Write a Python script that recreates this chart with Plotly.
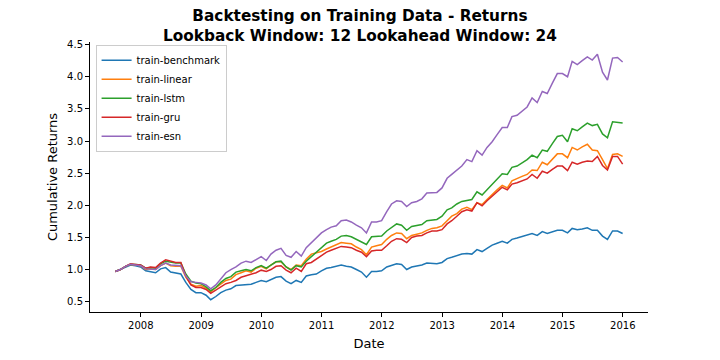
import pandas as pd
import plotly.graph_objects as go

dates = pd.date_range("2007-07-31", periods=102, freq="ME")

benchmark = [0.97, 1.00, 1.04, 1.07, 1.06, 1.04, 0.98, 0.96, 0.95, 1.01,
             1.03, 0.96, 0.95, 0.93, 0.80, 0.69, 0.64, 0.64, 0.60, 0.53,
             0.58, 0.64, 0.68, 0.70, 0.75, 0.76, 0.77, 0.77, 0.80, 0.83,
             0.81, 0.84, 0.88, 0.89, 0.82, 0.78, 0.83, 0.80, 0.90, 0.92,
             0.93, 0.98, 1.02, 1.03, 1.05, 1.07, 1.05, 1.04, 1.00, 0.96,
             0.88, 0.97, 0.97, 0.98, 1.04, 1.07, 1.09, 1.08, 1.00, 1.04,
             1.05, 1.07, 1.10, 1.09, 1.09, 1.11, 1.17, 1.19, 1.22, 1.24,
             1.25, 1.24, 1.31, 1.28, 1.33, 1.38, 1.41, 1.44, 1.41, 1.47,
             1.49, 1.51, 1.53, 1.56, 1.53, 1.59, 1.56, 1.59, 1.61, 1.61,
             1.57, 1.64, 1.62, 1.63, 1.65, 1.61, 1.61, 1.52, 1.47, 1.60,
             1.60, 1.56]

linear = [0.97, 1.00, 1.05, 1.08, 1.07, 1.06, 1.00, 1.01, 1.00, 1.06,
          1.10, 1.06, 1.05, 1.05, 0.88, 0.77, 0.74, 0.75, 0.71, 0.65,
          0.72, 0.78, 0.83, 0.85, 0.92, 0.95, 0.98, 0.96, 1.02, 1.05,
          1.01, 1.07, 1.12, 1.12, 1.04, 1.00, 1.07, 1.06, 1.16, 1.24,
          1.26, 1.28, 1.32, 1.35, 1.38, 1.42, 1.41, 1.40, 1.35, 1.31,
          1.23, 1.35, 1.37, 1.39, 1.47, 1.53, 1.57, 1.56, 1.48, 1.53,
          1.55, 1.57, 1.61, 1.64, 1.65, 1.68, 1.76, 1.83, 1.87, 1.94,
          1.97, 1.93, 2.04, 2.01, 2.09, 2.17, 2.24, 2.31, 2.27, 2.38,
          2.42, 2.45, 2.48, 2.55, 2.54, 2.67, 2.63, 2.72, 2.80, 2.80,
          2.74, 2.90, 2.86, 2.91, 2.95, 2.86, 2.85, 2.71, 2.57, 2.79,
          2.80, 2.76]

lstm = [0.97, 1.00, 1.05, 1.08, 1.08, 1.07, 1.02, 1.03, 1.02, 1.09,
        1.13, 1.11, 1.10, 1.10, 0.93, 0.82, 0.79, 0.78, 0.73, 0.67,
        0.72, 0.80, 0.86, 0.89, 0.96, 0.98, 1.00, 0.98, 1.03, 1.06,
        1.02, 1.07, 1.12, 1.13, 1.04, 0.99, 1.06, 1.04, 1.13, 1.20,
        1.27, 1.33, 1.41, 1.44, 1.47, 1.52, 1.53, 1.51, 1.47, 1.44,
        1.39, 1.51, 1.51, 1.52, 1.60, 1.66, 1.71, 1.69, 1.61, 1.67,
        1.68, 1.70, 1.76, 1.77, 1.78, 1.83, 1.93, 1.96, 2.02, 2.06,
        2.07, 2.09, 2.21, 2.16, 2.24, 2.32, 2.40, 2.49, 2.48, 2.59,
        2.61, 2.66, 2.71, 2.78, 2.74, 2.86, 2.84, 2.96, 3.07, 3.09,
        2.99, 3.19, 3.16, 3.22, 3.28, 3.24, 3.26, 3.11, 3.05, 3.30,
        3.29, 3.28]

gru = [0.97, 1.00, 1.05, 1.09, 1.08, 1.07, 1.02, 1.04, 1.03, 1.10,
       1.15, 1.13, 1.11, 1.11, 0.90, 0.76, 0.72, 0.72, 0.69, 0.63,
       0.68, 0.73, 0.78, 0.80, 0.83, 0.88, 0.90, 0.92, 0.95, 0.99,
       0.97, 1.00, 1.05, 1.06, 0.99, 0.95, 1.02, 0.97, 1.09, 1.11,
       1.16, 1.22, 1.27, 1.30, 1.33, 1.36, 1.35, 1.34, 1.30, 1.27,
       1.20, 1.29, 1.30, 1.30, 1.37, 1.44, 1.48, 1.47, 1.42, 1.50,
       1.52, 1.53, 1.57, 1.60, 1.60, 1.62, 1.71, 1.76, 1.83, 1.90,
       1.93, 1.91, 2.04, 1.99, 2.07, 2.14, 2.21, 2.28, 2.24, 2.33,
       2.35, 2.38, 2.41, 2.48, 2.42, 2.53, 2.50, 2.56, 2.61, 2.61,
       2.54, 2.67, 2.64, 2.67, 2.69, 2.68, 2.76, 2.62, 2.55, 2.76,
       2.76, 2.64]

esn = [0.97, 1.00, 1.05, 1.08, 1.07, 1.06, 1.01, 1.01, 1.00, 1.06,
       1.10, 1.07, 1.06, 1.06, 0.90, 0.81, 0.80, 0.79, 0.76, 0.70,
       0.76, 0.86, 0.95, 1.00, 1.04, 1.10, 1.13, 1.11, 1.16, 1.20,
       1.14, 1.24, 1.30, 1.33, 1.22, 1.19, 1.28, 1.21, 1.34, 1.42,
       1.50, 1.57, 1.62, 1.66, 1.68, 1.76, 1.77, 1.74, 1.69, 1.65,
       1.57, 1.74, 1.74, 1.76, 1.90, 2.02, 2.07, 2.06, 1.98, 2.04,
       2.06, 2.10, 2.19, 2.19, 2.20, 2.27, 2.42, 2.48, 2.55, 2.61,
       2.71, 2.68, 2.85, 2.78, 2.90, 2.99, 3.10, 3.21, 3.21, 3.38,
       3.40, 3.46, 3.53, 3.67, 3.60, 3.77, 3.74, 3.90, 4.05, 4.05,
       4.00, 4.24, 4.19, 4.25, 4.31, 4.26, 4.35, 4.07, 3.95, 4.29,
       4.30, 4.23]

series = [
    ("train-benchmark", benchmark, "#1f77b4"),
    ("train-linear", linear, "#ff7f0e"),
    ("train-lstm", lstm, "#2ca02c"),
    ("train-gru", gru, "#d62728"),
    ("train-esn", esn, "#9467bd"),
]

fig = go.Figure()
for name, vals, color in series:
    fig.add_trace(go.Scatter(
        x=dates, y=vals, mode="lines", name=name,
        line=dict(color=color, width=1.5)
    ))

# matplotlib-like 5% margins around the data
all_vals = benchmark + linear + lstm + gru + esn
ymin, ymax = min(all_vals), max(all_vals)
ypad = (ymax - ymin) * 0.05
xpad = (dates[-1] - dates[0]) * 0.05

# page body has an 8px margin, so the figure is 712x352
fig.add_annotation(
    text="<b>Backtesting on Training Data - Returns<br>Lookback Window: 12 Lookahead Window: 24</b>",
    xref="paper", yref="paper", x=(352 - 82) / 558, y=1,
    xanchor="center", yanchor="middle", yshift=16, showarrow=False,
    font=dict(size=15.3, family="DejaVu Sans", color="black")
)

fig.update_layout(
    width=712, height=352,
    margin=dict(l=82, r=72, t=34, b=45),
    paper_bgcolor="white", plot_bgcolor="white",
    font=dict(family="DejaVu Sans", size=10, color="black"),
    showlegend=True,
    legend=dict(
        x=0.01, y=0.99, xanchor="left", yanchor="top",
        bgcolor="rgba(255,255,255,0.8)", bordercolor="#cccccc", borderwidth=1,
        font=dict(size=10), itemwidth=30, tracegroupgap=0
    ),
    xaxis=dict(
        title=dict(text="Date", font=dict(size=13), standoff=8),
        range=[dates[0] - xpad, dates[-1] + xpad],
        tickvals=pd.date_range("2008-01-01", "2016-01-01", freq="YS"),
        tickformat="%Y",
        showgrid=False, zeroline=False,
        showline=True, linecolor="black", linewidth=1,
        ticks="outside", ticklen=4, tickcolor="black"
    ),
    yaxis=dict(
        title=dict(text="Cumulative Returns", font=dict(size=13), standoff=6),
        range=[ymin - ypad, ymax + ypad],
        tickvals=[0.5, 1.0, 1.5, 2.0, 2.5, 3.0, 3.5, 4.0, 4.5],
        tickformat=".1f",
        showgrid=False, zeroline=False,
        showline=True, linecolor="black", linewidth=1,
        ticks="outside", ticklen=4, tickcolor="black"
    ),
)

fig.write_html("out.html")
